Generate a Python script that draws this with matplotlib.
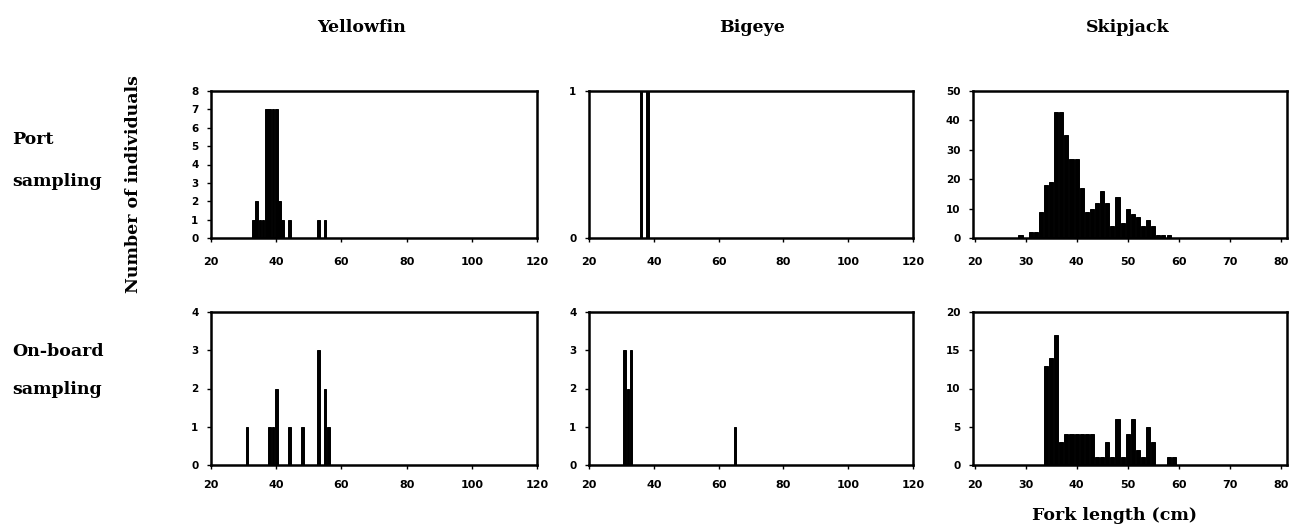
import matplotlib
matplotlib.use("Agg")
import matplotlib.pyplot as plt

# ---------------- data ----------------
species = ["Yellowfin", "Bigeye", "Skipjack"]

yf_port_len = [33, 34, 35, 36, 37, 38, 39, 40, 41, 42, 44, 53, 55]
yf_port_n = [1, 2, 1, 1, 7, 7, 7, 7, 2, 1, 1, 1, 1]

be_port_len = [36, 38]
be_port_n = [1, 1]

sj_port_len = [29, 31, 32, 33, 34, 35, 36, 37, 38, 39, 40, 41, 42, 43, 44, 45,
               46, 47, 48, 49, 50, 51, 52, 53, 54, 55, 56, 57, 58]
sj_port_n = [1, 2, 2, 9, 18, 19, 43, 43, 35, 27, 27, 17, 9, 10, 12, 16,
             12, 4, 14, 5, 10, 8, 7, 4, 6, 4, 1, 1, 1]

yf_board_len = [31, 38, 39, 40, 44, 48, 53, 55, 56]
yf_board_n = [1, 1, 1, 2, 1, 1, 3, 2, 1]

be_board_len = [31, 32, 33, 65]
be_board_n = [3, 2, 3, 1]

sj_board_len = [34, 35, 36, 37, 38, 39, 40, 41, 42, 43, 44, 45, 46, 47, 48, 49,
                50, 51, 52, 53, 54, 55, 58, 59]
sj_board_n = [13, 14, 17, 3, 4, 4, 4, 4, 4, 4, 1, 1, 3, 1, 6, 1,
              4, 6, 2, 1, 5, 3, 1, 1]

yticks_port = [list(range(0, 9)), [0, 1], list(range(0, 51, 10))]
yticks_board = [list(range(0, 5)), list(range(0, 5)), list(range(0, 21, 5))]
xticks_wide = [20, 40, 60, 80, 100, 120]
xticks_sj = [20, 30, 40, 50, 60, 70, 80]

# ---------------- layout ----------------
W, H = 1307, 531
fig = plt.figure(figsize=(W / 100, H / 100), dpi=100)

cols = [(211, 537), (589, 913), (973, 1287)]
rows_px = [(91, 238), (312, 465)]


def add_ax(col, row):
    l, r = cols[col]
    t, b = rows_px[row]
    return fig.add_axes([l / W, 1 - b / H, (r - l) / W, (b - t) / H])


serif = "DejaVu Serif"
data = [
    [(yf_port_len, yf_port_n), (be_port_len, be_port_n), (sj_port_len, sj_port_n)],
    [(yf_board_len, yf_board_n), (be_board_len, be_board_n), (sj_board_len, sj_board_n)],
]
yt = [yticks_port, yticks_board]

for ri in range(2):
    for ci in range(3):
        ax = add_ax(ci, ri)
        x, n = data[ri][ci]
        ax.bar(x, n, width=0.8, color="black", edgecolor="black", linewidth=0.7)
        ticks = yt[ri][ci]
        ax.set_ylim(0, ticks[-1])
        ax.set_yticks(ticks)
        if ci == 2:
            ax.set_xlim(19.7, 81.2)
            ax.set_xticks(xticks_sj)
        else:
            ax.set_xlim(20, 120)
            ax.set_xticks(xticks_wide)
        for s in ax.spines.values():
            s.set_linewidth(1.8)
        ax.tick_params(axis="y", direction="out", length=3, width=1, pad=6,
                       labelsize=7.5)
        ax.tick_params(axis="x", direction="out", length=3, width=1,
                       pad=11 if ri == 0 else 8, labelsize=8)
        for lab in ax.get_xticklabels() + ax.get_yticklabels():
            lab.set_fontweight("bold")

# titles
for ci, name in enumerate(species):
    cx = [362, 752, 1128][ci]
    fig.text(cx / W, 1 - 28 / H, name, ha="center", va="center",
             family=serif, fontweight="bold", fontsize=12.5)

# row labels
fs = 12.5
fig.text(12 / W, 1 - 140 / H, "Port", ha="left", va="center",
         family=serif, fontweight="bold", fontsize=fs)
fig.text(12 / W, 1 - 182 / H, "sampling", ha="left", va="center",
         family=serif, fontweight="bold", fontsize=fs)
fig.text(12 / W, 1 - 352 / H, "On-board", ha="left", va="center",
         family=serif, fontweight="bold", fontsize=fs)
fig.text(12 / W, 1 - 390 / H, "sampling", ha="left", va="center",
         family=serif, fontweight="bold", fontsize=fs)

# y label
fig.text(133 / W, 1 - 184 / H, "Number of individuals", ha="center", va="center",
         rotation=90, family=serif, fontweight="bold", fontsize=12.5)

# x label
fig.text(1115 / W, 1 - 515 / H, "Fork length (cm)", ha="center", va="center",
         family=serif, fontweight="bold", fontsize=12.5)

fig.savefig("out.png", dpi=100)
